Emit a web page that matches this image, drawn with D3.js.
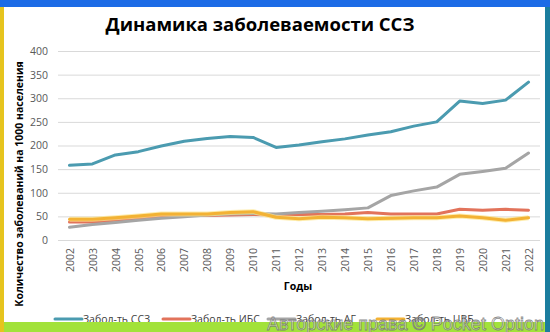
<!DOCTYPE html>
<html>
<head>
<meta charset="utf-8">
<script src="https://cdn.jsdelivr.net/npm/d3@7"></script>
<style>
  html, body { margin: 0; padding: 0; background: #fff; }
  svg { display: block; }
</style>
</head>
<body>
<svg id="chart" width="550" height="332"></svg>
<script>
// Years on the x axis
const years = ["2002","2003","2004","2005","2006","2007","2008","2009","2010","2011","2012",
               "2013","2014","2015","2016","2017","2018","2019","2020","2021","2022"];

// Incidence per 1000 population
const ssz = [158,161,180,187,199,209,215,219,217,196,201,208,214,222,229,241,250,294,289,296,334];
const ibs = [38,38,42,46,50,52,52,53,54,53,54,54,55,58,55,55,55,65,63,65,63];
const ag  = [27,33,37,42,46,49,53,55,56,55,58,61,64,68,94,104,112,139,145,152,184];
const cvb = [44,44,47,51,55,55,55,58,60,48,45,48,47,45,46,47,47,51,47,42,47];

const yTicks = [0,50,100,150,200,250,300,350,400];

const seriesNames = ["Забол-ть ССЗ","Забол-ть ИБС","Забол-ть АГ","Забол-ть ЦВБ"];
const seriesValues = [ssz, ibs, ag, cvb];
const seriesColors = ["#4b9bb0","#e2735b","#a5a5a5","#f3b234"];

const svg = d3.select("#chart");
const W = 550, H = 332;
const font = "'Open Sans', 'Noto Sans', sans-serif";

svg.append("rect").attr("x",0).attr("y",0).attr("width",W).attr("height",H).attr("fill","#fff");

const plot = {left: 58, right: 540, top: 51, bottom: 240};

const x = d3.scalePoint().domain(years).range([plot.left, plot.right]).padding(0.5);
const y = d3.scaleLinear().domain([0,400]).range([plot.bottom, plot.top]);

// title
svg.append("text")
  .attr("x", 260).attr("y", 31)
  .attr("text-anchor","middle")
  .attr("font-family", font).attr("font-weight","bold").attr("font-size", 18.5)
  .attr("fill","#000")
  .text("Динамика заболеваемости ССЗ");

// gridlines + y axis labels
const yAxis = d3.axisLeft(y).tickValues(yTicks).tickSize(-(plot.right - plot.left)).tickPadding(10);
const gy = svg.append("g").attr("transform", `translate(${plot.left},0)`).call(yAxis);
gy.select(".domain").remove();
gy.selectAll(".tick line").attr("stroke","#d9d9d9").attr("stroke-width",1);
gy.selectAll(".tick text").attr("font-family", font).attr("font-size", 10.5).attr("fill","#595959");

// x axis labels (rotated)
const xAxis = d3.axisBottom(x).tickSize(0).tickPadding(0);
const gx = svg.append("g").attr("transform", `translate(0,${plot.bottom})`).call(xAxis);
gx.select(".domain").remove();
gx.selectAll(".tick text")
  .attr("font-family", font).attr("font-size", 10.5).attr("fill","#595959")
  .attr("transform","rotate(-90)")
  .attr("text-anchor","end")
  .attr("x", -8).attr("y", 0).attr("dy","0.35em");

// axis titles
svg.append("text")
  .attr("x", 298).attr("y", 290)
  .attr("text-anchor","middle")
  .attr("font-family", font).attr("font-weight","bold").attr("font-size", 10.5)
  .attr("fill","#000")
  .text("Годы");

svg.append("text")
  .attr("transform","translate(23,184) rotate(-90)")
  .attr("text-anchor","middle")
  .attr("font-family", font).attr("font-weight","bold").attr("font-size", 10.5)
  .attr("fill","#000")
  .text("Количество заболеваний на 1000 населения");

// lines
const line = d3.line().x((d,i) => x(years[i])).y(d => y(d));
seriesValues.forEach((vals, k) => {
  if (k === 3) {
    // soft yellow halo under the ЦВБ line
    svg.append("path").datum(vals).attr("d", line)
      .attr("fill","none").attr("stroke","#fde58a").attr("stroke-width",5)
      .attr("stroke-linejoin","round").attr("opacity",0.7);
  }
  svg.append("path").datum(vals).attr("d", line)
    .attr("fill","none").attr("stroke", seriesColors[k]).attr("stroke-width", 3)
    .attr("stroke-linejoin","round").attr("stroke-linecap","round");
});

// legend
const legendX = [55, 163, 268, 377];
const legend = svg.append("g");
seriesNames.forEach((name, k) => {
  const g = legend.append("g").attr("transform", `translate(${legendX[k]},319)`);
  g.append("line").attr("x1",0).attr("x2",27).attr("y1",0).attr("y2",0)
    .attr("stroke", seriesColors[k]).attr("stroke-width",3).attr("stroke-linecap","round");
  g.append("text").attr("x", 28).attr("y", 0).attr("dy","0.35em")
    .attr("font-family", font).attr("font-size", 10.5).attr("fill","#404040")
    .text(name);
});

// border strips
svg.append("rect").attr("x",0).attr("y",0).attr("width",W).attr("height",7).attr("fill","#1c6be6");
svg.append("rect").attr("x",0).attr("y",7).attr("width",4).attr("height",H-7).attr("fill","#e6c41e");
svg.append("rect").attr("x",545).attr("y",7).attr("width",5).attr("height",H-7).attr("fill","#1b7d9e");
svg.append("rect").attr("x",4).attr("y",322).attr("width",541).attr("height",10).attr("fill","#a2e23a");

// outlined copyright mark
svg.append("text")
  .attr("x", 267).attr("y", 330)
  .attr("textLength", 277).attr("lengthAdjust","spacingAndGlyphs")
  .attr("font-family","'Liberation Sans', sans-serif").attr("font-size", 19)
  .attr("fill","#ffffff").attr("fill-opacity",0.5)
  .attr("stroke","#6e6e6e").attr("stroke-width",0.8).attr("stroke-opacity",0.8)
  .text("Авторские права © Pocket Option");
</script>
</body>
</html>
